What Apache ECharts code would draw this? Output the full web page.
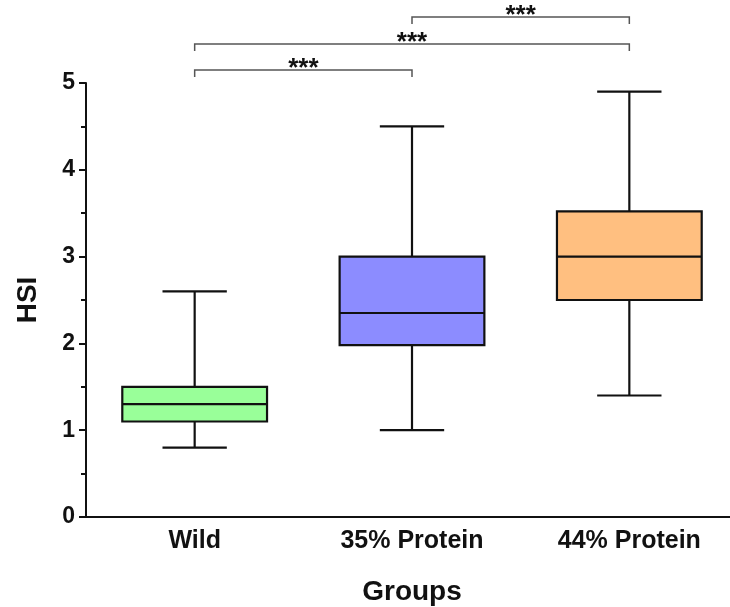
<!DOCTYPE html>
<html>
<head>
<meta charset="utf-8">
<script src="https://cdn.jsdelivr.net/npm/echarts@6/dist/echarts.min.js"></script>
<style>
  html, body { margin: 0; padding: 0; background: #fff; }
  #chart { width: 730px; height: 607px; }
</style>
</head>
<body>
<div id="chart"></div>
<script>
// groups and box statistics
const categories = ['Wild', '35% Protein', '44% Protein']
const mins = [0.8, 1.0, 1.4]
const q1s = [1.1, 1.98, 2.5]
const medians = [1.3, 2.35, 3.0]
const q3s = [1.5, 3.0, 3.52]
const maxs = [2.6, 4.5, 4.9]
const boxColors = ['#99ff99', '#8c8cff', '#ffbf80']

// significance brackets: [from group, to group, height in HSI units]
const comparisons = [[0, 1, 5.15], [0, 2, 5.45], [1, 2, 5.76]]
const compLabels = ['***', '***', '***']

const yTicks = [0, 1, 2, 3, 4, 5]

const FONT = 'Liberation Sans, Arial, sans-serif'

const boxData = categories.map((c, i) => [i, mins[i], q1s[i], medians[i], q3s[i], maxs[i]])
const bracketData = comparisons.map((c, i) => [c[0], c[1], c[2], compLabels[i]])

const chart = echarts.init(document.getElementById('chart'))

function renderBox(params, api) {
  const x = api.value(0)
  const band = api.size([1, 0])[0]
  const halfBox = band * 0.333
  const halfCap = band * 0.148
  const pMin = api.coord([x, api.value(1)])
  const pQ1 = api.coord([x, api.value(2)])
  const pMed = api.coord([x, api.value(3)])
  const pQ3 = api.coord([x, api.value(4)])
  const pMax = api.coord([x, api.value(5)])
  const cx = pMin[0]
  const line = { stroke: '#111', lineWidth: 2.2 }
  return {
    type: 'group',
    children: [
      { type: 'line', shape: { x1: cx, y1: pQ3[1], x2: cx, y2: pMax[1] }, style: line },
      { type: 'line', shape: { x1: cx, y1: pQ1[1], x2: cx, y2: pMin[1] }, style: line },
      { type: 'line', shape: { x1: cx - halfCap, y1: pMax[1], x2: cx + halfCap, y2: pMax[1] }, style: line },
      { type: 'line', shape: { x1: cx - halfCap, y1: pMin[1], x2: cx + halfCap, y2: pMin[1] }, style: line },
      {
        type: 'rect',
        shape: { x: cx - halfBox, y: pQ3[1], width: halfBox * 2, height: pQ1[1] - pQ3[1] },
        style: { fill: boxColors[params.dataIndex], stroke: '#111', lineWidth: 2.2 }
      },
      { type: 'line', shape: { x1: cx - halfBox, y1: pMed[1], x2: cx + halfBox, y2: pMed[1] }, style: line }
    ]
  }
}

function renderBracket(params, api) {
  const a = api.coord([api.value(0), api.value(2)])
  const b = api.coord([api.value(1), api.value(2)])
  const drop = 7
  const st = { stroke: '#555', lineWidth: 1.5, fill: null }
  return {
    type: 'group',
    children: [
      {
        type: 'polyline',
        shape: { points: [[a[0], a[1] + drop], [a[0], a[1]], [b[0], b[1]], [b[0], b[1] + drop]] },
        style: st
      },
      {
        type: 'text',
        style: {
          x: (a[0] + b[0]) / 2, y: a[1] - 1,
          text: api.value(3),
          align: 'center', verticalAlign: 'middle',
          fill: '#111', font: 'bold 26px ' + FONT
        }
      }
    ]
  }
}

const option = {
  animation: false,
  backgroundColor: '#fff',
  grid: { left: 86, right: -8, top: 83, bottom: 90, containLabel: false, outerBoundsMode: 'none' },
  xAxis: {
    type: 'category',
    data: categories,
    name: 'Groups',
    nameLocation: 'middle',
    nameGap: 61,
    nameTextStyle: { color: '#111', fontSize: 28, fontWeight: 'bold', fontFamily: FONT },
    axisLine: { lineStyle: { color: '#111', width: 2 } },
    axisTick: { alignWithLabel: true, length: 8, lineStyle: { color: '#111', width: 2 } },
    axisLabel: { color: '#111', fontSize: 25, fontWeight: 'bold', fontFamily: FONT, margin: 12 },
    splitLine: { show: false }
  },
  yAxis: {
    type: 'value',
    min: yTicks[0],
    max: yTicks[yTicks.length - 1],
    interval: 1,
    name: 'HSI',
    nameLocation: 'middle',
    nameGap: 44,
    nameRotate: 90,
    nameTextStyle: { color: '#111', fontSize: 28, fontWeight: 'bold', fontFamily: FONT },
    axisLine: { show: true, lineStyle: { color: '#111', width: 2 } },
    axisTick: { show: true, length: 7, lineStyle: { color: '#111', width: 2 } },
    minorTick: { show: true, splitNumber: 2, length: 5, lineStyle: { color: '#111', width: 2 } },
    axisLabel: { color: '#111', fontSize: 23, fontWeight: 'bold', fontFamily: FONT, margin: 11 },
    splitLine: { show: false }
  },
  series: [
    {
      type: 'custom',
      name: 'HSI',
      renderItem: renderBox,
      encode: { x: 0, y: [1, 2, 3, 4, 5] },
      data: boxData,
      z: 3
    },
    {
      type: 'custom',
      name: 'sig',
      renderItem: renderBracket,
      encode: { x: [0, 1], y: 2 },
      data: bracketData,
      clip: false,
      z: 4
    }
  ]
}

chart.setOption(option)
</script>
</body>
</html>
